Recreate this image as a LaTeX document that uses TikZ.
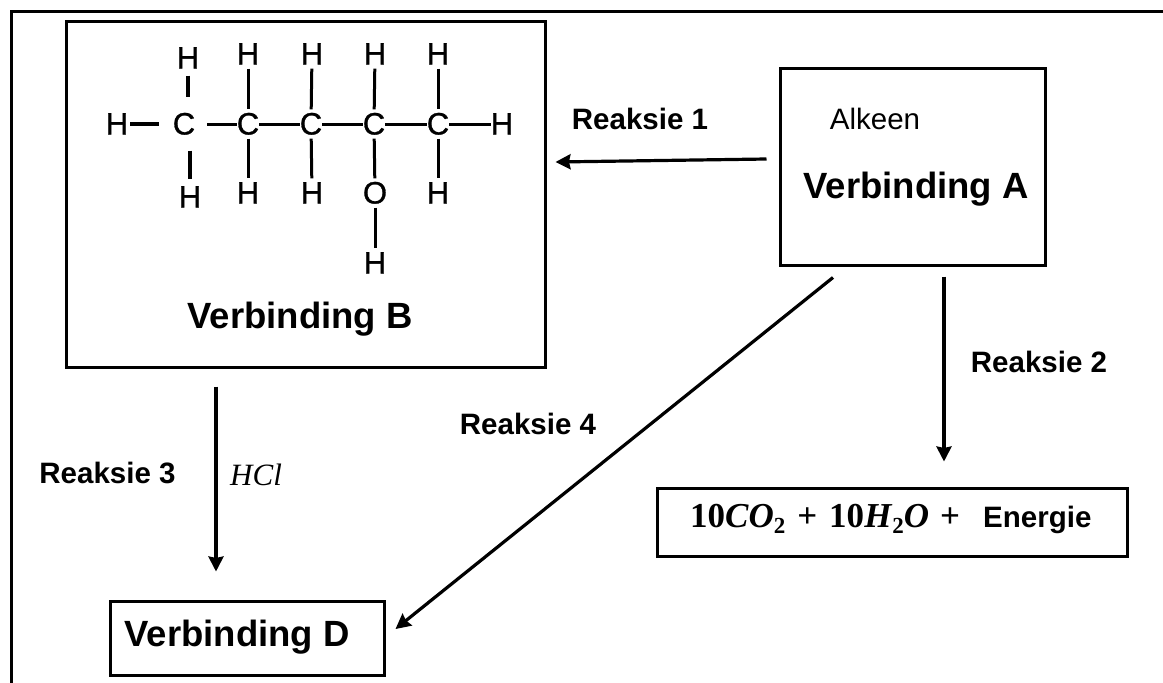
\documentclass[tikz,border=0pt]{standalone}
\usepackage[no-math]{fontspec}
\setmainfont{Liberation Sans}
\newfontfamily\srf{Liberation Serif}
\newfontfamily\atomf[FakeBold=0.9]{Liberation Sans}
\usetikzlibrary{arrows.meta}
\newcommand{\fsz}[1]{\fontsize{#1}{#1}\selectfont}
\newcommand{\subtwo}{\raisebox{-6pt}{\fsz{23}2}}
\tikzset{
  x=1pt,y=-1pt,
  boxn/.style={draw=black,line width=3pt,rectangle,inner sep=0pt,fill=none},
  arr/.style={draw=black,line width=3.2pt,-{Stealth[length=15pt,width=15pt,inset=1.5pt]}},
  lbl/.style={anchor=base,inner sep=0pt,font=\fsz{29.5}\bfseries},
  vb/.style={anchor=base,inner sep=0pt,font=\fsz{36.5}\bfseries},
  atom/.style={inner xsep=0pt,inner ysep=4pt,text height=21pt,text depth=0pt,font=\fsz{31}\atomf},
  bond/.style={draw=black,line width=3pt},
  hbond/.style={draw=black,line width=4.2pt},
}
\begin{document}
\begin{tikzpicture}
\useasboundingbox (0,0) rectangle (1163,683);
\fill[white] (0,0) rectangle (1163,683);
\coordinate (fa) at (11.5,683);
\coordinate (fb) at (11.5,11.5);
\coordinate (fc) at (1163,11.5);
\draw[line width=3.6pt,line join=miter] (fa) -- (fb) -- (fc);
% boxes
\node[boxn,minimum width=479pt,minimum height=346pt] (B) at (305.5,194) {};
\node[boxn,minimum width=265pt,minimum height=197pt] (A) at (912.5,166.5) {};
\node[boxn,minimum width=470pt,minimum height=68pt] (E) at (892,522) {};
\node[boxn,minimum width=274pt,minimum height=74pt] (D) at (247,638) {};
% labels in boxes
\node[vb] (lB) at (300,328) {Verbinding B};
\node[vb] (lA) at (916,198) {Verbinding A};
\node[vb] (lD) at (237,646) {Verbinding D};
\node[anchor=base,inner sep=0pt,font=\fsz{29.5}] (alk) at (875,129) {Alkeen};
\node[anchor=base west,inner sep=0pt,font=\fsz{35}\srf\bfseries] (eqn) at (690,527)
  {10\textit{CO}\subtwo\hspace{12pt}+\hspace{12pt}10\textit{H}\subtwo\textit{O}\hspace{11pt}+};
\node[anchor=base west,inner sep=0pt,font=\fsz{29.5}\bfseries] (en) at (983,527) {Energie};
% reaction labels
\node[lbl] (r1) at (640,129) {Reaksie 1};
\node[lbl] (r2) at (1039,372) {Reaksie 2};
\node[lbl] (r3) at (107.5,483) {Reaksie 3};
\node[lbl] (r4) at (528,434) {Reaksie 4};
\node[anchor=base west,inner sep=0pt,font=\fsz{31}\srf\itshape] (hcl) at (230,485) {HCl};
% arrows
\draw[arr] ([xshift=-12pt,yshift=7.5pt]A.west) -- ([xshift=9pt,yshift=32pt]B.east);
\draw[arr] ([xshift=31.5pt,yshift=-10pt]A.south) -- ([xshift=52pt,yshift=25pt]E.north);
\draw[arr] ([xshift=-89.5pt,yshift=-18pt]B.south) -- ([xshift=-31pt,yshift=28pt]D.north);
\draw[arr] ([xshift=-79.5pt,yshift=-11pt]A.south) -- ([xshift=10pt,yshift=9pt]D.east);
% molecule atoms
\foreach \n/\xx/\yy/\t in {c1/184/124/C,c2/248/124/C,c3/311/124/C,c4/374/124/C,c5/438/124/C,
  hl/117/124/H,hr/502/124/H,
  t1/188/58/H,t2/248/54/H,t3/312/54/H,t4/375/54/H,t5/438/54/H,
  b1/190/197/H,b2/248/193/H,b3/312/193/H,o4/375/193/O,b5/438/193/H,
  ho/375/263/H}
  {\node[atom] (\n) at (\xx,\yy) {\t};}
% bonds
\draw[hbond,shorten <=2pt,shorten >=14pt] (hl) -- (c1);
\draw[bond,shorten <=12pt] (c1) -- (c2);
\draw[bond] (c2) -- (c3);
\draw[bond] (c3) -- (c4);
\draw[bond] (c4) -- (c5);
\draw[bond] (c5) -- (hr);
\draw[hbond,shorten <=3pt,shorten >=12pt] (t1.south) -- (c1.north -| t1.south);
\draw[hbond,shorten <=12pt,shorten >=3pt] (c1.south -| b1.north) -- (b1.north);
\foreach \a/\b in {t2/c2,t3/c3,t4/c4,t5/c5,c2/b2,c3/b3,c4/o4,c5/b5,o4/ho}
  {\draw[bond] (\a) -- (\b);}
\end{tikzpicture}
\end{document}
